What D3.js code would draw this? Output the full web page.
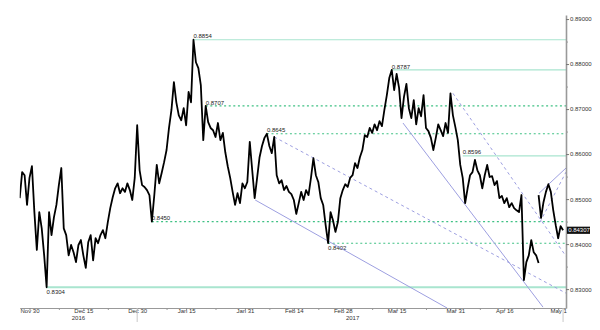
<!DOCTYPE html>
<html>
<head>
<meta charset="utf-8">
<script src="https://cdn.jsdelivr.net/npm/d3@7"></script>
<style>
  body { margin: 0; background: #fff; }
  svg { display: block; }
  text { font-family: "Liberation Sans", Arial, sans-serif; }
</style>
</head>
<body>
<div id="chart"></div>
<script>

// series starts Mon 28 Nov 2016, x is counted in trading days (weekends removed)
const startDate = new Date(2016, 10, 28)
const step = 0.5

// EUR/GBP, half-day samples up to Fri 21 Apr
const pricesA = [
  .8502, .8560, .8553, .8487, .8547, .8573, .8471, .8387, .8471, .8435,
  .8375, .8304, .8471, .8420, .8460, .8487, .8531, .8569, .8435, .8420,
  .8375, .8398, .8382, .8360, .8398, .8409, .8375, .8347, .8404, .8420,
  .8364, .8413, .8402, .8420, .8431, .8413, .8449, .8480, .8504, .8524,
  .8535, .8513, .8524, .8516, .8535, .8520, .8498, .8547, .8664, .8564,
  .8531, .8527, .8520, .8509, .8450, .8509, .8576, .8535, .8558, .8582,
  .8609, .8658, .8698, .8760, .8715, .8686, .8675, .8702, .8664, .8738,
  .8715, .8854, .8804, .8791, .8753, .8631, .8707, .8671, .8658, .8653,
  .8638, .8669, .8631, .8647, .8604, .8573, .8547, .8516, .8487, .8513,
  .8491, .8535, .8524, .8538, .8627, .8564, .8502, .8547, .8593, .8618,
  .8636, .8645, .8618, .8602, .8638, .8553, .8535, .8542, .8520, .8529,
  .8516, .8511, .8498, .8467, .8491, .8516, .8498, .8520, .8509, .8547,
  .8591, .8553, .8538, .8502, .8487, .8442, .8402, .8471, .8453, .8427,
  .8449, .8502, .8520, .8533, .8527, .8547, .8553, .8580, .8569, .8593,
  .8609, .8642, .8638, .8658, .8647, .8666, .8653, .8673, .8662, .8698,
  .8731, .8769, .8787, .8742, .8778, .8747, .8680, .8727, .8756, .8702,
  .8680, .8720, .8666, .8702, .8684, .8731, .8658, .8651, .8636, .8609,
  .8636, .8666, .8653, .8640, .8669, .8647, .8735, .8686, .8660, .8631,
  .8576, .8547, .8491, .8524, .8553, .8560, .8587, .8564, .8553, .8524,
  .8553, .8576, .8549, .8551, .8531, .8540, .8502, .8507, .8491, .8502,
  .8482, .8491, .8480, .8475, .8471, .8509, .8320, .8360, .8375, .8409,
  .8382, .8375, .8358
]

// after the weekend gap of 24 Apr
const startB = 106
const pricesB = [.8509, .8458, .8493, .8516, .8533, .8516, .8475, .8442, .8413, .8440, .84307]

// swing levels, the trading day they start from, and whether they are major
const levels     = [.8854, .8787, .8707, .8645, .8596, .8450, .8402, .8304]
const levelDay   = [35.5,  76,    38,    50.5,  90.5,  27,    63,    5.5]
const levelMajor = [true,  true,  false, false, true,  false, false, true]

// trend lines: [[day, price], [day, price]]
const trendSolid = [
  [[48.1, .8498], [87.3, .8258]],
  [[78.3, .8669], [106.9, .8260]],
  [[106.1, .8513], [111.6, .8569]]
]
const trendDashed = [
  [[52.0, .8638], [111.6, .8291]],
  [[88.5, .8735], [111.6, .8373]],
  [[106.3, .8449], [111.6, .8560]]
]

const tickDates  = ['2016-11-30', '2016-12-15', '2016-12-30', '2017-01-15', '2017-01-31', '2017-02-14',
                    '2017-02-28', '2017-03-15', '2017-03-31', '2017-04-16', '2017-05-01']
const tickLabels = ['Nov 30', 'Dec 15', 'Dec 30', 'Jan 15', 'Jan 31', 'Feb 14',
                    'Feb 28', 'Mar 15', 'Mar 31', 'Apr 16', 'May 1']
const minorDates = ['2016-12-08', '2016-12-22', '2017-01-09', '2017-01-23', '2017-02-07',
                    '2017-02-21', '2017-03-08', '2017-03-23', '2017-04-07', '2017-04-24']
const yearDates  = ['2016-12-14', '2017-03-02']
const yearLabels = ['2016', '2017']
const markerDates = ['2017-01-01', '2017-05-02']

const yTicks = [.83, .84, .85, .86, .87, .88, .89]
const yMinor = [.835, .845, .855, .865, .875, .885]

var chart = {

	init: () => {

		chart.width = 600
		chart.height = 330

		chart.x = d3.scaleLinear().domain([0, 111.6]).range([19.7, 566])
		chart.y = d3.scaleLinear().domain([0.8258, 0.8909]).range([308, 15])

		chart.svg = d3.select("#chart").append("svg")
			.attr("width", chart.width)
			.attr("height", chart.height)

		chart.svg.append("clipPath").attr("id", "plot")
			.append("rect")
			.attr("x", chart.x.range()[0])
			.attr("y", chart.y.range()[1])
			.attr("width", chart.x.range()[1] - chart.x.range()[0])
			.attr("height", chart.y.range()[0] - chart.y.range()[1])

		chart.drawLevels()
		chart.drawTrends()
		chart.drawPrice()
		chart.drawAxes()

	},

	tday: (s) => {

		// trading days since startDate
		var d = new Date(s + "T00:00:00")
		return d3.timeDay.count(startDate, d) - d3.timeSaturday.count(startDate, d) - d3.timeSunday.count(startDate, d)

	},

	drawLevels: () => {

		var g = chart.svg.append("g")
		var right = chart.x.range()[1]

		levels.forEach((v, i) => {

			g.append("line")
				.attr("x1", chart.x(levelDay[i]))
				.attr("x2", right)
				.attr("y1", chart.y(v))
				.attr("y2", chart.y(v))
				.attr("stroke", levelMajor[i] ? "#a9e5cf" : "#3fc184")
				.attr("stroke-width", levelMajor[i] ? (i == levels.length - 1 ? 2 : 1.2) : 1.1)
				.attr("stroke-dasharray", levelMajor[i] ? null : "2,2.6")

			// the two lowest lows carry their label under the line
			var below = (v == 0.8304 || v == 0.8402)

			g.append("text")
				.attr("x", chart.x(levelDay[i]))
				.attr("y", chart.y(v) + (below ? 6.8 : -1.4))
				.attr("font-size", 6)
				.attr("fill", "#222")
				.text(v.toFixed(4))

		})

	},

	drawTrends: () => {

		var g = chart.svg.append("g").attr("clip-path", "url(#plot)")

		var line = d3.line()
			.x(d => chart.x(d[0]))
			.y(d => chart.y(d[1]))

		g.selectAll(".solid").data(trendSolid).enter().append("path")
			.attr("d", line)
			.attr("fill", "none")
			.attr("stroke", "#9d9fe0")
			.attr("stroke-width", 1)

		g.selectAll(".dashed").data(trendDashed).enter().append("path")
			.attr("d", line)
			.attr("fill", "none")
			.attr("stroke", "#9d9fe0")
			.attr("stroke-width", 1)
			.attr("stroke-dasharray", "3,3")

	},

	drawPrice: () => {

		var g = chart.svg.append("g").attr("clip-path", "url(#plot)")

		var lineA = d3.line()
			.x((d, i) => chart.x(i * step))
			.y(d => chart.y(d))

		var lineB = d3.line()
			.x((d, i) => chart.x(startB + i * step))
			.y(d => chart.y(d))

		g.append("path").attr("d", lineA(pricesA))
			.attr("fill", "none").attr("stroke", "#000").attr("stroke-width", 1.8).attr("stroke-linejoin", "round")

		g.append("path").attr("d", lineB(pricesB))
			.attr("fill", "none").attr("stroke", "#000").attr("stroke-width", 1.8).attr("stroke-linejoin", "round")

	},

	drawAxes: () => {

		var right = chart.x.range()[1]
		var bottom = chart.y.range()[0]

		// right price axis
		var yAxis = d3.axisRight(chart.y)
			.tickValues(yTicks)
			.tickFormat(d3.format(".5f"))
			.tickSize(3)
			.tickSizeOuter(0)
			.tickPadding(1)

		var ya = chart.svg.append("g")
			.attr("transform", `translate(${right},0)`)
			.call(yAxis)

		ya.select(".domain").attr("stroke", "#999").attr("stroke-width", 1.6)
		ya.selectAll(".tick line").attr("stroke", "#777")
		ya.selectAll("text").attr("font-size", 6).attr("fill", "#333").attr("font-family", null)

		var ym = chart.svg.append("g")
			.attr("transform", `translate(${right},0)`)
			.call(d3.axisRight(chart.y).tickValues(yMinor).tickSize(2).tickFormat(""))

		ym.select(".domain").remove()
		ym.selectAll(".tick line").attr("stroke", "#999")

		// bottom date axis
		var xAxis = d3.axisBottom(chart.x)
			.tickValues(tickDates.map(chart.tday))
			.tickFormat((d, i) => tickLabels[i])
			.tickSize(2)
			.tickSizeOuter(0)

		var xa = chart.svg.append("g")
			.attr("transform", `translate(0,${bottom})`)
			.call(xAxis)

		xa.select(".domain").attr("stroke", "#999").attr("stroke-width", 1.2)
		xa.selectAll(".tick line").attr("stroke", "#888")
		xa.selectAll("text").attr("font-size", 6).attr("fill", "#333").attr("font-family", null)
			.attr("y", 1.2)

		var xm = chart.svg.append("g")
			.attr("transform", `translate(0,${bottom})`)
			.call(d3.axisBottom(chart.x).tickValues(minorDates.map(chart.tday)).tickSize(2).tickFormat(""))

		xm.select(".domain").remove()
		xm.selectAll(".tick line").attr("stroke", "#999")

		chart.svg.selectAll(".marker").data(markerDates).enter().append("line")
			.attr("x1", d => chart.x(chart.tday(d)))
			.attr("x2", d => chart.x(chart.tday(d)))
			.attr("y1", bottom)
			.attr("y2", bottom + 14)
			.attr("stroke", "#c8c8c8")
			.attr("stroke-width", 1)

		chart.svg.selectAll(".year").data(yearDates).enter().append("text")
			.attr("x", d => chart.x(chart.tday(d)))
			.attr("y", bottom + 12)
			.attr("text-anchor", "middle")
			.attr("font-size", 6)
			.attr("fill", "#333")
			.text((d, i) => yearLabels[i])

		// last price tag
		var last = pricesB[pricesB.length - 1]

		chart.svg.append("rect")
			.attr("x", right + 1)
			.attr("y", chart.y(last) - 3.6)
			.attr("width", 23)
			.attr("height", 7.2)
			.attr("fill", "#111")

		chart.svg.append("text")
			.attr("x", right + 2.2)
			.attr("y", chart.y(last) + 2.1)
			.attr("font-size", 6)
			.attr("fill", "#fff")
			.text(d3.format(".5f")(last))

	}

}

chart.init()

</script>
</body>
</html>
